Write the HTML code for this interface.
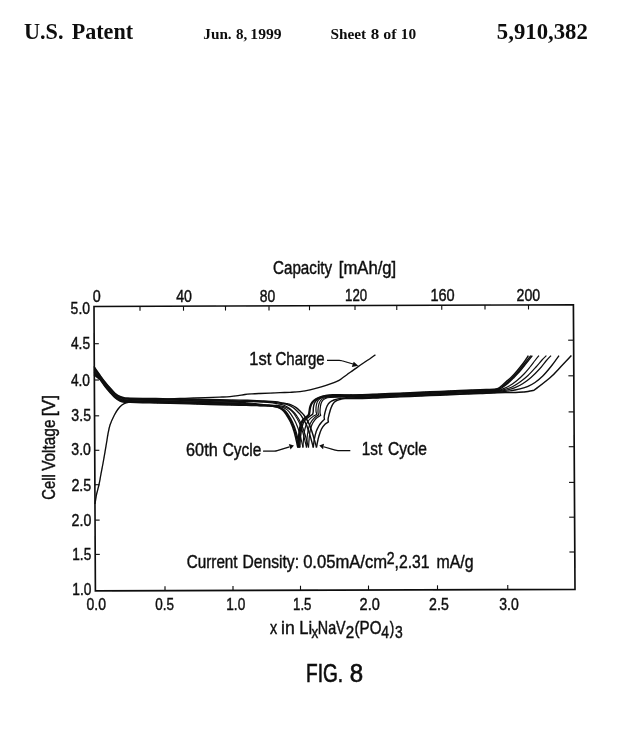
<!DOCTYPE html>
<html><head><meta charset="utf-8"><title>US Patent 5,910,382 - Sheet 8 of 10</title>
<style>
html,body{margin:0;padding:0;background:#fff;}
body{width:640px;height:732px;overflow:hidden;font-family:"Liberation Sans",sans-serif;}
svg{display:block;}
text{fill:#111;}
</style></head><body>
<svg width="640" height="732" viewBox="0 0 640 732">
<defs><filter id="soft" x="0" y="0" width="640" height="732" filterUnits="userSpaceOnUse"><feGaussianBlur stdDeviation="0.4"/></filter></defs>
<rect width="640" height="732" fill="#fff"/>
<g filter="url(#soft)">
<g id="texts">
<text transform="translate(23.96,38.75) scale(0.9666,1)" font-family='"Liberation Serif", serif' font-weight="bold" font-size="23">U.S.</text>
<text transform="translate(71.64,38.75) scale(0.9625,1)" font-family='"Liberation Serif", serif' font-weight="bold" font-size="23">Patent</text>
<text transform="translate(203.30,39.20) scale(1.0165,1)" font-family='"Liberation Serif", serif' font-weight="bold" font-size="15">Jun.</text>
<text transform="translate(235.90,39.20) scale(1.0012,1)" font-family='"Liberation Serif", serif' font-weight="bold" font-size="15">8,</text>
<text transform="translate(250.36,39.20) scale(1.0407,1)" font-family='"Liberation Serif", serif' font-weight="bold" font-size="15">1999</text>
<text transform="translate(330.42,39.20) scale(1.0212,1)" font-family='"Liberation Serif", serif' font-weight="bold" font-size="15">Sheet</text>
<text transform="translate(370.68,39.20) scale(1.1308,1)" font-family='"Liberation Serif", serif' font-weight="bold" font-size="15">8</text>
<text transform="translate(383.15,39.20) scale(1.0653,1)" font-family='"Liberation Serif", serif' font-weight="bold" font-size="15">of</text>
<text transform="translate(400.78,39.20) scale(1.0264,1)" font-family='"Liberation Serif", serif' font-weight="bold" font-size="15">10</text>
<text transform="translate(496.87,39.00) scale(0.9893,1)" font-family='"Liberation Serif", serif' font-weight="bold" font-size="23">5,910,382</text>
<text transform="translate(272.98,273.75) scale(0.8262,1)" font-family='"Liberation Sans", sans-serif' font-weight="normal" font-size="18.4" stroke="#111" stroke-width="0.45">Capacity</text>
<text transform="translate(338.81,273.75) scale(0.9063,1)" font-family='"Liberation Sans", sans-serif' font-weight="normal" font-size="18.4" stroke="#111" stroke-width="0.45">[mAh/g]</text>
<text transform="translate(92.76,302.00) scale(0.8693,1)" font-family='"Liberation Sans", sans-serif' font-weight="normal" font-size="16.5" stroke="#111" stroke-width="0.45">0</text>
<text transform="translate(176.23,301.80) scale(0.8576,1)" font-family='"Liberation Sans", sans-serif' font-weight="normal" font-size="16.5" stroke="#111" stroke-width="0.45">40</text>
<text transform="translate(259.72,301.50) scale(0.8440,1)" font-family='"Liberation Sans", sans-serif' font-weight="normal" font-size="16.5" stroke="#111" stroke-width="0.45">80</text>
<text transform="translate(345.05,301.20) scale(0.8039,1)" font-family='"Liberation Sans", sans-serif' font-weight="normal" font-size="16.5" stroke="#111" stroke-width="0.45">120</text>
<text transform="translate(430.45,300.90) scale(0.8818,1)" font-family='"Liberation Sans", sans-serif' font-weight="normal" font-size="16.5" stroke="#111" stroke-width="0.45">160</text>
<text transform="translate(516.60,300.60) scale(0.8574,1)" font-family='"Liberation Sans", sans-serif' font-weight="normal" font-size="16.5" stroke="#111" stroke-width="0.45">200</text>
<text transform="translate(70.62,313.50) scale(0.8462,1)" font-family='"Liberation Sans", sans-serif' font-weight="normal" font-size="16.5" stroke="#111" stroke-width="0.45">5.0</text>
<text transform="translate(70.89,349.40) scale(0.8366,1)" font-family='"Liberation Sans", sans-serif' font-weight="normal" font-size="16.5" stroke="#111" stroke-width="0.45">4.5</text>
<text transform="translate(70.89,385.60) scale(0.8342,1)" font-family='"Liberation Sans", sans-serif' font-weight="normal" font-size="16.5" stroke="#111" stroke-width="0.45">4.0</text>
<text transform="translate(71.37,421.00) scale(0.8555,1)" font-family='"Liberation Sans", sans-serif' font-weight="normal" font-size="16.5" stroke="#111" stroke-width="0.45">3.5</text>
<text transform="translate(71.37,454.80) scale(0.8530,1)" font-family='"Liberation Sans", sans-serif' font-weight="normal" font-size="16.5" stroke="#111" stroke-width="0.45">3.0</text>
<text transform="translate(71.40,490.60) scale(0.8676,1)" font-family='"Liberation Sans", sans-serif' font-weight="normal" font-size="16.5" stroke="#111" stroke-width="0.45">2.5</text>
<text transform="translate(71.60,525.50) scale(0.8605,1)" font-family='"Liberation Sans", sans-serif' font-weight="normal" font-size="16.5" stroke="#111" stroke-width="0.45">2.0</text>
<text transform="translate(72.26,559.70) scale(0.8286,1)" font-family='"Liberation Sans", sans-serif' font-weight="normal" font-size="16.5" stroke="#111" stroke-width="0.45">1.5</text>
<text transform="translate(72.26,594.50) scale(0.8356,1)" font-family='"Liberation Sans", sans-serif' font-weight="normal" font-size="16.5" stroke="#111" stroke-width="0.45">1.0</text>
<text transform="translate(86.52,609.60) scale(0.8484,1)" font-family='"Liberation Sans", sans-serif' font-weight="normal" font-size="16.5" stroke="#111" stroke-width="0.45">0.0</text>
<text transform="translate(155.29,609.60) scale(0.8162,1)" font-family='"Liberation Sans", sans-serif' font-weight="normal" font-size="16.5" stroke="#111" stroke-width="0.45">0.5</text>
<text transform="translate(226.27,609.60) scale(0.8261,1)" font-family='"Liberation Sans", sans-serif' font-weight="normal" font-size="16.5" stroke="#111" stroke-width="0.45">1.0</text>
<text transform="translate(293.04,609.60) scale(0.8048,1)" font-family='"Liberation Sans", sans-serif' font-weight="normal" font-size="16.5" stroke="#111" stroke-width="0.45">1.5</text>
<text transform="translate(359.59,609.60) scale(0.8791,1)" font-family='"Liberation Sans", sans-serif' font-weight="normal" font-size="16.5" stroke="#111" stroke-width="0.45">2.0</text>
<text transform="translate(429.10,609.60) scale(0.8583,1)" font-family='"Liberation Sans", sans-serif' font-weight="normal" font-size="16.5" stroke="#111" stroke-width="0.45">2.5</text>
<text transform="translate(499.27,609.60) scale(0.8484,1)" font-family='"Liberation Sans", sans-serif' font-weight="normal" font-size="16.5" stroke="#111" stroke-width="0.45">3.0</text>
<text transform="translate(249.37,364.60) scale(0.8954,1)" font-family='"Liberation Sans", sans-serif' font-weight="normal" font-size="18.4" stroke="#111" stroke-width="0.45">1st</text>
<text transform="translate(275.48,364.60) scale(0.8162,1)" font-family='"Liberation Sans", sans-serif' font-weight="normal" font-size="18.4" stroke="#111" stroke-width="0.45">Charge</text>
<text transform="translate(186.07,455.60) scale(0.8833,1)" font-family='"Liberation Sans", sans-serif' font-weight="normal" font-size="18.4" stroke="#111" stroke-width="0.45">60th</text>
<text transform="translate(222.71,455.60) scale(0.8396,1)" font-family='"Liberation Sans", sans-serif' font-weight="normal" font-size="18.4" stroke="#111" stroke-width="0.45">Cycle</text>
<text transform="translate(361.86,455.40) scale(0.8325,1)" font-family='"Liberation Sans", sans-serif' font-weight="normal" font-size="18.4" stroke="#111" stroke-width="0.45">1st</text>
<text transform="translate(387.95,455.40) scale(0.8487,1)" font-family='"Liberation Sans", sans-serif' font-weight="normal" font-size="18.4" stroke="#111" stroke-width="0.45">Cycle</text>
<text transform="translate(54.90,499.76) rotate(-90) scale(0.8068,1)" font-family='"Liberation Sans", sans-serif' font-weight="normal" font-size="18.4" stroke="#111" stroke-width="0.45">Cell</text>
<text transform="translate(54.90,470.85) rotate(-90) scale(0.8364,1)" font-family='"Liberation Sans", sans-serif' font-weight="normal" font-size="18.4" stroke="#111" stroke-width="0.45">Voltage</text>
<text transform="translate(54.90,416.13) rotate(-90) scale(0.9409,1)" font-family='"Liberation Sans", sans-serif' font-weight="normal" font-size="18.4" stroke="#111" stroke-width="0.45">[V]</text>
<text transform="translate(186.72,568.20) scale(0.8299,1)" font-family='"Liberation Sans", sans-serif' font-weight="normal" font-size="18.4" stroke="#111" stroke-width="0.45">Current</text>
<text transform="translate(242.47,568.20) scale(0.8506,1)" font-family='"Liberation Sans", sans-serif' font-weight="normal" font-size="18.4" stroke="#111" stroke-width="0.45">Density:</text>
<text transform="translate(303.13,568.20) scale(0.9032,1)" font-family='"Liberation Sans", sans-serif' font-weight="normal" font-size="18.4" stroke="#111" stroke-width="0.45">0.05mA/cm</text>
<text transform="translate(386.69,563.80) scale(0.8678,1)" font-family='"Liberation Sans", sans-serif' font-weight="normal" font-size="16.2" stroke="#111" stroke-width="0.45">2</text>
<text transform="translate(394.56,568.20) scale(0.8562,1)" font-family='"Liberation Sans", sans-serif' font-weight="normal" font-size="18.4" stroke="#111" stroke-width="0.45">,2.31</text>
<text transform="translate(436.42,568.20) scale(0.8642,1)" font-family='"Liberation Sans", sans-serif' font-weight="normal" font-size="18.4" stroke="#111" stroke-width="0.45">mA/g</text>
<text transform="translate(270.06,633.90) scale(0.7770,1)" font-family='"Liberation Sans", sans-serif' font-weight="normal" font-size="18.4" stroke="#111" stroke-width="0.45">x</text>
<text transform="translate(281.10,633.90) scale(0.9566,1)" font-family='"Liberation Sans", sans-serif' font-weight="normal" font-size="18.4" stroke="#111" stroke-width="0.45">in</text>
<text transform="translate(299.26,633.90) scale(0.8946,1)" font-family='"Liberation Sans", sans-serif' font-weight="normal" font-size="18.4" stroke="#111" stroke-width="0.45">Li</text>
<text transform="translate(311.44,638.00) scale(0.8393,1)" font-family='"Liberation Sans", sans-serif' font-weight="normal" font-size="16" stroke="#111" stroke-width="0.45">x</text>
<text transform="translate(317.83,633.90) scale(0.7781,1)" font-family='"Liberation Sans", sans-serif' font-weight="normal" font-size="18.4" stroke="#111" stroke-width="0.45">NaV</text>
<text transform="translate(345.64,637.80) scale(0.9356,1)" font-family='"Liberation Sans", sans-serif' font-weight="normal" font-size="16.2" stroke="#111" stroke-width="0.45">2</text>
<text transform="translate(354.57,633.90) scale(0.8244,1)" font-family='"Liberation Sans", sans-serif' font-weight="normal" font-size="18.4" stroke="#111" stroke-width="0.45">(PO</text>
<text transform="translate(381.28,637.80) scale(0.8615,1)" font-family='"Liberation Sans", sans-serif' font-weight="normal" font-size="16.2" stroke="#111" stroke-width="0.45">4</text>
<text transform="translate(389.71,633.90) scale(0.7385,1)" font-family='"Liberation Sans", sans-serif' font-weight="normal" font-size="18.4" stroke="#111" stroke-width="0.45">)</text>
<text transform="translate(395.06,637.80) scale(0.8585,1)" font-family='"Liberation Sans", sans-serif' font-weight="normal" font-size="16.2" stroke="#111" stroke-width="0.45">3</text>
<text transform="translate(306.03,681.70) scale(0.7628,1)" font-family='"Liberation Sans", sans-serif' font-weight="normal" font-size="25" stroke="#111" stroke-width="0.65">FIG.</text>
<text transform="translate(349.68,681.70) scale(0.9617,1)" font-family='"Liberation Sans", sans-serif' font-weight="normal" font-size="25" stroke="#111" stroke-width="0.65">8</text>
</g>
<g id="frame">
<polygon points="94.0,306.5 573.4,304.8 575.0,589.4 95.4,590.9" fill="none" stroke="#0a0a0a" stroke-width="1.65" stroke-linejoin="miter"/>
<g stroke="#0a0a0a" stroke-width="1.1">
<line x1="140" y1="306.34" x2="140" y2="310.84"/>
<line x1="183.5" y1="306.18" x2="183.5" y2="310.68"/>
<line x1="225.5" y1="306.03" x2="225.5" y2="310.53"/>
<line x1="269" y1="305.88" x2="269" y2="310.38"/>
<line x1="309.5" y1="305.74" x2="309.5" y2="310.24"/>
<line x1="355" y1="305.57" x2="355" y2="310.07"/>
<line x1="396.75" y1="305.43" x2="396.75" y2="309.93"/>
<line x1="441.75" y1="305.27" x2="441.75" y2="309.77"/>
<line x1="485" y1="305.11" x2="485" y2="309.61"/>
<line x1="528.5" y1="304.96" x2="528.5" y2="309.46"/>
<line x1="165" y1="590.68" x2="165" y2="586.18"/>
<line x1="233" y1="590.47" x2="233" y2="585.97"/>
<line x1="300.5" y1="590.26" x2="300.5" y2="585.76"/>
<line x1="368.5" y1="590.05" x2="368.5" y2="585.55"/>
<line x1="437.5" y1="589.83" x2="437.5" y2="585.33"/>
<line x1="507.75" y1="589.61" x2="507.75" y2="585.11"/>
<line x1="94.18" y1="343.7" x2="98.78" y2="343.7"/>
<line x1="94.36" y1="380" x2="98.96" y2="380"/>
<line x1="94.54" y1="415.8" x2="99.14" y2="415.8"/>
<line x1="94.71" y1="450.3" x2="99.31" y2="450.3"/>
<line x1="94.88" y1="484.7" x2="99.48" y2="484.7"/>
<line x1="95.05" y1="520.1" x2="99.65" y2="520.1"/>
<line x1="95.22" y1="554.4" x2="99.82" y2="554.4"/>
<line x1="573.60" y1="340.2" x2="568.20" y2="340.2"/>
<line x1="573.80" y1="375.8" x2="568.40" y2="375.8"/>
<line x1="574.00" y1="411.9" x2="568.60" y2="411.9"/>
<line x1="574.20" y1="446.7" x2="568.80" y2="446.7"/>
<line x1="574.40" y1="482.4" x2="569.00" y2="482.4"/>
<line x1="574.59" y1="517.2" x2="569.19" y2="517.2"/>
<line x1="574.79" y1="552" x2="569.39" y2="552"/>
</g>
</g>
<g id="curves">
<path d="M95.00,504.00C95.23,502.50 95.75,498.17 96.40,495.00C97.05,491.83 98.17,488.33 98.90,485.00C99.63,481.67 100.02,479.17 100.80,475.00C101.58,470.83 102.57,465.83 103.60,460.00C104.63,454.17 106.30,444.17 107.00,440.00C107.70,435.83 107.30,437.50 107.80,435.00C108.30,432.50 108.90,428.33 110.00,425.00C111.10,421.67 113.05,417.67 114.40,415.00C115.75,412.33 116.85,410.67 118.10,409.00C119.35,407.33 120.54,406.03 121.90,405.00C123.26,403.97 124.07,403.33 126.25,402.80C128.43,402.27 131.04,402.18 135.00,401.80C138.96,401.42 144.17,401.00 150.00,400.50C155.83,400.00 164.17,399.17 170.00,398.80C175.83,398.43 179.17,398.48 185.00,398.30C190.83,398.12 199.17,397.90 205.00,397.70C210.83,397.50 215.83,397.28 220.00,397.10C224.17,396.92 227.00,396.83 230.00,396.60C233.00,396.37 235.50,396.05 238.00,395.70C240.50,395.35 242.67,394.80 245.00,394.50C247.33,394.20 249.50,394.07 252.00,393.90C254.50,393.73 255.33,393.70 260.00,393.50C264.67,393.30 275.00,392.90 280.00,392.70C285.00,392.50 286.67,392.48 290.00,392.30C293.33,392.12 296.67,392.00 300.00,391.60C303.33,391.20 306.46,390.68 310.00,389.90C313.54,389.12 316.77,388.32 321.25,386.90C325.73,385.48 333.44,382.85 336.90,381.40C340.36,379.95 340.28,379.35 342.00,378.20C343.72,377.05 344.62,376.35 347.20,374.50C349.78,372.65 354.37,369.30 357.50,367.10C360.63,364.90 363.82,362.78 366.00,361.30C368.18,359.82 369.03,359.28 370.60,358.20C372.17,357.12 374.60,355.37 375.40,354.80" fill="none" stroke="#0a0a0a" stroke-width="1.35" stroke-linejoin="miter" stroke-linecap="butt"/>
<path d="M94.00,374.64C94.50,375.06 96.00,376.30 97.00,377.13C98.00,377.96 98.67,378.08 100.00,379.64C101.33,381.21 103.33,384.37 105.00,386.51C106.67,388.65 108.33,390.59 110.00,392.47C111.67,394.35 113.33,396.36 115.00,397.79C116.67,399.23 118.33,400.35 120.00,401.08C121.67,401.81 123.33,401.99 125.00,402.20C126.67,402.41 125.83,402.22 130.00,402.33C134.17,402.44 143.33,402.68 150.00,402.85C156.67,403.02 160.00,403.11 170.00,403.37C180.00,403.63 200.00,404.15 210.00,404.41C220.00,404.67 225.00,404.80 230.00,404.93C235.00,405.06 237.33,405.12 240.00,405.19C242.67,405.26 243.87,405.29 246.00,405.35C248.13,405.40 250.50,405.46 252.80,405.52C255.10,405.58 257.47,405.64 259.80,405.70C262.13,405.77 264.80,405.79 266.80,405.89C268.80,405.99 270.02,406.06 271.80,406.30C273.58,406.55 275.80,406.81 277.50,407.35C279.20,407.89 280.67,408.53 282.00,409.55C283.33,410.58 284.08,411.42 285.50,413.50C286.92,415.59 289.03,418.91 290.50,422.05C291.97,425.19 293.08,428.11 294.30,432.35C295.52,436.60 297.22,444.98 297.80,447.50" fill="none" stroke="#0a0a0a" stroke-width="1.45" stroke-linejoin="miter" stroke-linecap="butt"/>
<path d="M94.00,373.47C94.50,373.93 96.00,375.31 97.00,376.22C98.00,377.14 98.67,377.36 100.00,378.96C101.33,380.56 103.33,383.68 105.00,385.82C106.67,387.96 108.33,389.91 110.00,391.80C111.67,393.68 113.33,395.70 115.00,397.13C116.67,398.57 118.33,399.67 120.00,400.41C121.67,401.15 123.33,401.36 125.00,401.58C126.67,401.80 125.83,401.62 130.00,401.72C134.17,401.83 143.33,402.06 150.00,402.22C156.67,402.39 160.00,402.47 170.00,402.72C180.00,402.97 200.00,403.47 210.00,403.72C220.00,403.97 225.00,404.09 230.00,404.22C235.00,404.34 237.33,404.39 240.00,404.47C242.67,404.55 244.00,404.61 246.00,404.69C248.00,404.77 249.53,404.84 252.00,404.96C254.47,405.08 258.17,405.29 260.80,405.41C263.43,405.54 265.80,405.60 267.80,405.73C269.80,405.85 271.02,405.91 272.80,406.18C274.58,406.45 276.80,406.76 278.50,407.34C280.20,407.92 281.67,408.61 283.00,409.65C284.33,410.69 285.08,411.51 286.50,413.59C287.92,415.68 290.03,419.00 291.50,422.15C292.97,425.30 294.08,428.27 295.30,432.49C296.52,436.72 298.22,445.00 298.80,447.50" fill="none" stroke="#0a0a0a" stroke-width="1.45" stroke-linejoin="miter" stroke-linecap="butt"/>
<path d="M94.00,372.30C94.50,372.80 96.00,374.32 97.00,375.32C98.00,376.32 98.67,376.66 100.00,378.29C101.33,379.93 103.33,383.00 105.00,385.14C106.67,387.28 108.33,389.23 110.00,391.12C111.67,393.01 113.33,395.04 115.00,396.47C116.67,397.91 118.33,398.99 120.00,399.74C121.67,400.49 123.33,400.73 125.00,400.96C126.67,401.19 125.83,401.01 130.00,401.12C134.17,401.23 143.33,401.44 150.00,401.60C156.67,401.76 160.00,401.83 170.00,402.07C180.00,402.31 200.00,402.79 210.00,403.03C220.00,403.27 225.00,403.38 230.00,403.50C235.00,403.63 237.33,403.67 240.00,403.75C242.67,403.84 244.00,403.93 246.00,404.04C248.00,404.15 249.37,404.23 252.00,404.41C254.63,404.60 259.00,404.96 261.80,405.15C264.60,405.35 266.80,405.41 268.80,405.57C270.80,405.72 272.02,405.77 273.80,406.06C275.58,406.36 277.80,406.72 279.50,407.33C281.20,407.95 282.67,408.70 284.00,409.76C285.33,410.82 286.08,411.61 287.50,413.69C288.92,415.77 291.03,419.10 292.50,422.25C293.97,425.41 295.08,428.43 296.30,432.63C297.52,436.84 299.22,445.02 299.80,447.50" fill="none" stroke="#0a0a0a" stroke-width="1.4" stroke-linejoin="miter" stroke-linecap="butt"/>
<path d="M94.00,371.12C94.50,371.67 96.00,373.35 97.00,374.44C98.00,375.52 98.67,375.97 100.00,377.64C101.33,379.31 103.33,382.33 105.00,384.47C106.67,386.60 108.33,388.56 110.00,390.45C111.67,392.35 113.33,394.38 115.00,395.82C116.67,397.25 118.33,398.32 120.00,399.07C121.67,399.82 123.33,400.10 125.00,400.34C126.67,400.58 125.83,400.41 130.00,400.51C134.17,400.62 143.33,400.82 150.00,400.97C156.67,401.12 160.00,401.20 170.00,401.43C180.00,401.65 200.00,402.11 210.00,402.34C220.00,402.56 225.00,402.68 230.00,402.79C235.00,402.91 237.33,402.94 240.00,403.04C242.67,403.13 244.00,403.24 246.00,403.38C248.00,403.52 250.00,403.69 252.00,403.87C254.00,404.05 255.83,404.28 258.00,404.47C260.17,404.67 262.67,404.87 265.00,405.04C267.33,405.20 270.00,405.30 272.00,405.46C274.00,405.62 275.22,405.68 277.00,406.00C278.78,406.32 281.00,406.73 282.70,407.38C284.40,408.03 285.87,408.84 287.20,409.92C288.53,410.99 289.28,411.75 290.70,413.83C292.12,415.91 294.23,419.23 295.70,422.39C297.17,425.55 298.28,428.61 299.50,432.80C300.72,436.98 302.42,445.05 303.00,447.50" fill="none" stroke="#0a0a0a" stroke-width="1.15" stroke-linejoin="miter" stroke-linecap="butt"/>
<path d="M94.00,369.95C94.50,370.55 96.00,372.38 97.00,373.56C98.00,374.73 98.67,375.30 100.00,377.01C101.33,378.72 103.33,381.68 105.00,383.81C106.67,385.94 108.33,387.90 110.00,389.79C111.67,391.68 113.33,393.73 115.00,395.16C116.67,396.59 118.33,397.64 120.00,398.40C121.67,399.15 123.33,399.46 125.00,399.72C126.67,399.97 125.83,399.80 130.00,399.91C134.17,400.01 143.33,400.20 150.00,400.34C156.67,400.49 160.00,400.56 170.00,400.78C180.00,400.99 200.00,401.43 210.00,401.65C220.00,401.86 225.00,401.97 230.00,402.08C235.00,402.19 237.33,402.21 240.00,402.32C242.67,402.42 244.00,402.55 246.00,402.72C248.00,402.88 249.42,403.03 252.00,403.30C254.58,403.58 258.75,404.10 261.50,404.36C264.25,404.62 266.17,404.70 268.50,404.86C270.83,405.03 273.50,405.16 275.50,405.33C277.50,405.51 278.72,405.57 280.50,405.92C282.28,406.26 284.50,406.73 286.20,407.43C287.90,408.13 289.37,409.01 290.70,410.10C292.03,411.19 292.78,411.92 294.20,413.99C295.62,416.07 297.73,419.39 299.20,422.55C300.67,425.72 301.78,428.83 303.00,432.99C304.22,437.15 305.92,445.08 306.50,447.50" fill="none" stroke="#0a0a0a" stroke-width="1.15" stroke-linejoin="miter" stroke-linecap="butt"/>
<path d="M94.00,368.77C94.50,369.43 96.00,371.42 97.00,372.69C98.00,373.96 98.67,374.65 100.00,376.40C101.33,378.14 103.33,381.03 105.00,383.15C106.67,385.28 108.33,387.24 110.00,389.13C111.67,391.03 113.33,393.07 115.00,394.50C116.67,395.94 118.33,396.95 120.00,397.72C121.67,398.48 123.33,398.83 125.00,399.09C126.67,399.36 125.83,399.20 130.00,399.30C134.17,399.41 143.33,399.58 150.00,399.72C156.67,399.85 160.00,399.92 170.00,400.13C180.00,400.34 200.00,400.75 210.00,400.95C220.00,401.16 225.00,401.27 230.00,401.37C235.00,401.47 237.33,401.53 240.00,401.57C242.67,401.61 244.00,401.61 246.00,401.62C248.00,401.63 249.08,401.55 252.00,401.62C254.92,401.69 260.42,401.88 263.50,402.04C266.58,402.21 268.17,402.33 270.50,402.62C272.83,402.90 275.50,403.42 277.50,403.78C279.50,404.14 280.72,404.17 282.50,404.78C284.28,405.38 286.50,406.34 288.20,407.42C289.90,408.50 291.37,409.99 292.70,411.26C294.03,412.52 294.78,412.96 296.20,415.02C297.62,417.08 299.73,420.40 301.20,423.64C302.67,426.88 303.78,430.49 305.00,434.47C306.22,438.45 307.92,445.33 308.50,447.50" fill="none" stroke="#0a0a0a" stroke-width="1.2" stroke-linejoin="miter" stroke-linecap="butt"/>
<path d="M94.00,367.60C94.50,368.30 96.00,370.46 97.00,371.83C98.00,373.19 98.67,374.02 100.00,375.80C101.33,377.58 103.33,380.40 105.00,382.51C106.67,384.63 108.33,386.59 110.00,388.48C111.67,390.37 113.33,392.42 115.00,393.85C116.67,395.28 118.33,396.27 120.00,397.04C121.67,397.81 123.33,398.19 125.00,398.47C126.67,398.75 125.83,398.59 130.00,398.70C134.17,398.80 143.33,398.96 150.00,399.09C156.67,399.22 160.00,399.28 170.00,399.48C180.00,399.68 200.00,400.07 210.00,400.26C220.00,400.46 225.00,400.56 230.00,400.66C235.00,400.75 237.33,400.80 240.00,400.85C242.67,400.90 244.00,400.92 246.00,400.95C248.00,400.98 248.28,400.90 252.00,401.03C255.72,401.16 264.42,401.51 268.30,401.74C272.18,401.96 272.97,402.06 275.30,402.38C277.63,402.70 280.30,403.26 282.30,403.65C284.30,404.04 285.52,404.06 287.30,404.71C289.08,405.35 291.30,406.38 293.00,407.52C294.70,408.66 296.17,410.24 297.50,411.53C298.83,412.82 299.58,413.21 301.00,415.27C302.42,417.33 304.53,420.63 306.00,423.88C307.47,427.12 308.58,430.80 309.80,434.74C311.02,438.67 312.72,445.37 313.30,447.50" fill="none" stroke="#0a0a0a" stroke-width="1.35" stroke-linejoin="miter" stroke-linecap="butt"/>
<path d="M94.00,366.43C94.50,367.18 96.00,369.51 97.00,370.98C98.00,372.44 98.67,373.40 100.00,375.22C101.33,377.04 103.33,379.78 105.00,381.88C106.67,383.98 108.33,385.95 110.00,387.83C111.67,389.72 113.33,391.78 115.00,393.20C116.67,394.62 118.33,395.58 120.00,396.36C121.67,397.13 123.33,397.56 125.00,397.85C126.67,398.13 125.83,397.99 130.00,398.09C134.17,398.20 143.33,398.34 150.00,398.46C156.67,398.59 160.00,398.65 170.00,398.83C180.00,399.02 200.00,399.39 210.00,399.57C220.00,399.76 225.00,399.85 230.00,399.94C235.00,400.04 237.33,400.07 240.00,400.13C242.67,400.19 244.00,400.22 246.00,400.27C248.00,400.33 247.75,400.25 252.00,400.44C256.25,400.63 267.08,401.14 271.50,401.42C275.92,401.70 276.17,401.76 278.50,402.11C280.83,402.45 283.50,403.07 285.50,403.49C287.50,403.91 288.72,403.93 290.50,404.61C292.28,405.30 294.50,406.40 296.20,407.60C297.90,408.80 299.37,410.48 300.70,411.79C302.03,413.11 302.78,413.45 304.20,415.50C305.62,417.55 307.73,420.85 309.20,424.10C310.67,427.35 311.78,431.10 313.00,435.00C314.22,438.90 315.92,445.42 316.50,447.50" fill="none" stroke="#0a0a0a" stroke-width="1.4" stroke-linejoin="miter" stroke-linecap="butt"/>
<path d="M297.80,447.50C297.93,445.58 298.22,439.58 298.60,436.00C298.98,432.42 299.40,428.75 300.10,426.00C300.80,423.25 301.52,421.25 302.80,419.50C304.08,417.75 306.77,416.75 307.80,415.50C308.83,414.25 308.67,413.42 309.00,412.00C309.33,410.58 309.33,408.58 309.80,407.00C310.27,405.42 310.80,403.83 311.80,402.50C312.80,401.17 313.90,400.10 315.80,399.00C317.70,397.90 320.37,396.60 323.20,395.90C326.03,395.20 329.17,394.97 332.80,394.80C336.43,394.63 340.47,394.90 345.00,394.90C349.53,394.90 354.17,394.96 360.00,394.80C365.83,394.64 373.33,394.23 380.00,393.95C386.67,393.67 393.33,393.38 400.00,393.10C406.67,392.82 413.33,392.53 420.00,392.25C426.67,391.97 433.33,391.68 440.00,391.40C446.67,391.12 453.33,390.83 460.00,390.55C466.67,390.27 474.00,389.96 480.00,389.70C486.00,389.44 492.50,389.55 496.00,388.98C499.50,388.40 499.33,387.45 501.00,386.26C502.67,385.06 504.33,383.27 506.00,381.83C507.67,380.39 509.17,379.43 511.00,377.61C512.83,375.80 515.00,373.30 517.00,370.94C519.00,368.59 521.10,366.06 523.00,363.50C524.90,360.94 527.50,356.92 528.40,355.60" fill="none" stroke="#0a0a0a" stroke-width="1.45" stroke-linejoin="miter" stroke-linecap="butt"/>
<path d="M298.80,447.50C298.93,445.58 299.22,439.58 299.60,436.00C299.98,432.42 300.40,428.75 301.10,426.00C301.80,423.25 302.52,421.27 303.80,419.50C305.08,417.73 307.80,416.65 308.80,415.40C309.80,414.15 309.50,413.40 309.80,412.00C310.10,410.60 310.13,408.58 310.60,407.00C311.07,405.42 311.57,403.83 312.60,402.50C313.63,401.17 314.90,400.07 316.80,399.00C318.70,397.93 321.30,396.75 324.00,396.10C326.70,395.45 329.50,395.25 333.00,395.10C336.50,394.95 340.50,395.16 345.00,395.20C349.50,395.24 354.17,395.46 360.00,395.34C365.83,395.23 373.33,394.78 380.00,394.49C386.67,394.21 393.33,393.93 400.00,393.64C406.67,393.36 413.33,393.08 420.00,392.79C426.67,392.51 433.33,392.23 440.00,391.94C446.67,391.66 453.33,391.38 460.00,391.09C466.67,390.81 473.92,390.50 480.00,390.24C486.08,389.98 492.92,390.06 496.50,389.52C500.08,388.98 499.67,388.18 501.50,387.00C503.33,385.81 505.50,384.14 507.50,382.41C509.50,380.68 511.50,378.69 513.50,376.62C515.50,374.55 517.58,372.27 519.50,370.00C521.42,367.73 523.12,365.40 525.00,363.00C526.88,360.60 529.83,356.83 530.80,355.60" fill="none" stroke="#0a0a0a" stroke-width="1.45" stroke-linejoin="miter" stroke-linecap="butt"/>
<path d="M299.80,447.50C299.92,445.75 300.17,440.25 300.50,437.00C300.83,433.75 301.22,430.58 301.80,428.00C302.38,425.42 302.97,423.23 304.00,421.50C305.03,419.77 306.57,418.78 308.00,417.60C309.43,416.42 311.83,414.93 312.60,414.40C312.70,414.00 313.07,413.15 313.20,412.00C313.33,410.85 313.22,408.92 313.40,407.50C313.58,406.08 313.78,404.72 314.30,403.50C314.82,402.28 315.47,401.15 316.50,400.20C317.53,399.25 318.92,398.43 320.50,397.80C322.08,397.17 321.92,396.78 326.00,396.40C330.08,396.02 339.33,395.59 345.00,395.50C350.67,395.41 354.17,395.96 360.00,395.89C365.83,395.81 373.33,395.32 380.00,395.04C386.67,394.75 393.33,394.47 400.00,394.19C406.67,393.90 413.33,393.62 420.00,393.34C426.67,393.05 433.33,392.77 440.00,392.49C446.67,392.20 453.33,391.92 460.00,391.64C466.67,391.35 473.83,391.05 480.00,390.79C486.17,390.52 493.33,390.57 497.00,390.06C500.67,389.56 500.17,388.86 502.00,387.74C503.83,386.62 506.00,385.05 508.00,383.33C510.00,381.61 512.00,379.48 514.00,377.42C516.00,375.37 518.00,373.32 520.00,371.00C522.00,368.68 523.95,366.07 526.00,363.50C528.05,360.93 531.25,356.92 532.30,355.60" fill="none" stroke="#0a0a0a" stroke-width="1.4" stroke-linejoin="miter" stroke-linecap="butt"/>
<path d="M303.00,447.50C303.10,445.92 303.32,440.92 303.60,438.00C303.88,435.08 304.25,432.25 304.70,430.00C305.15,427.75 305.58,426.17 306.30,424.50C307.02,422.83 307.92,421.32 309.00,420.00C310.08,418.68 311.48,417.55 312.80,416.60C314.12,415.65 316.22,414.68 316.90,414.30C316.77,413.88 316.25,412.85 316.10,411.80C315.95,410.75 315.92,409.30 316.00,408.00C316.08,406.70 316.27,405.23 316.60,404.00C316.93,402.77 317.27,401.57 318.00,400.60C318.73,399.63 319.67,398.85 321.00,398.20C322.33,397.55 322.00,397.08 326.00,396.70C330.00,396.32 339.33,395.95 345.00,395.90C350.67,395.85 354.17,396.48 360.00,396.43C365.83,396.38 373.33,395.86 380.00,395.58C386.67,395.30 393.33,395.01 400.00,394.73C406.67,394.45 413.33,394.16 420.00,393.88C426.67,393.60 433.33,393.31 440.00,393.03C446.67,392.75 453.33,392.46 460.00,392.18C466.67,391.90 473.83,391.59 480.00,391.33C486.17,391.07 493.17,391.01 497.00,390.61C500.83,390.20 500.83,389.72 503.00,388.88C505.17,388.03 507.67,386.94 510.00,385.54C512.33,384.15 514.67,382.43 517.00,380.51C519.33,378.59 521.83,376.25 524.00,374.00C526.17,371.75 528.17,369.25 530.00,367.00C531.83,364.75 533.50,362.40 535.00,360.50C536.50,358.60 538.33,356.42 539.00,355.60" fill="none" stroke="#0a0a0a" stroke-width="1.15" stroke-linejoin="miter" stroke-linecap="butt"/>
<path d="M306.50,447.50C306.60,445.92 306.82,440.92 307.10,438.00C307.38,435.08 307.75,432.25 308.20,430.00C308.65,427.75 309.13,426.12 309.80,424.50C310.47,422.88 311.28,421.55 312.20,420.30C313.12,419.05 314.22,417.92 315.30,417.00C316.38,416.08 318.13,415.17 318.70,414.80C318.58,414.37 318.08,413.33 318.00,412.20C317.92,411.07 318.03,409.40 318.20,408.00C318.37,406.60 318.60,405.05 319.00,403.80C319.40,402.55 319.85,401.42 320.60,400.50C321.35,399.58 322.18,398.87 323.50,398.30C324.82,397.73 324.92,397.42 328.50,397.10C332.08,396.78 339.75,396.42 345.00,396.40C350.25,396.38 354.17,397.02 360.00,396.97C365.83,396.92 373.33,396.40 380.00,396.12C386.67,395.84 393.33,395.55 400.00,395.27C406.67,394.99 413.33,394.70 420.00,394.42C426.67,394.14 433.33,393.85 440.00,393.57C446.67,393.29 453.33,393.00 460.00,392.72C466.67,392.44 473.83,392.13 480.00,391.87C486.17,391.61 492.83,391.57 497.00,391.15C501.17,390.73 502.50,390.05 505.00,389.35C507.50,388.65 509.50,388.20 512.00,386.97C514.50,385.75 517.33,383.91 520.00,382.00C522.67,380.09 525.33,378.00 528.00,375.50C530.67,373.00 533.67,369.58 536.00,367.00C538.33,364.42 540.27,361.90 542.00,360.00C543.73,358.10 545.67,356.33 546.40,355.60" fill="none" stroke="#0a0a0a" stroke-width="1.15" stroke-linejoin="miter" stroke-linecap="butt"/>
<path d="M308.50,447.50C308.62,445.92 308.90,440.92 309.20,438.00C309.50,435.08 309.83,432.25 310.30,430.00C310.77,427.75 311.30,426.12 312.00,424.50C312.70,422.88 313.58,421.50 314.50,420.30C315.42,419.10 316.47,418.13 317.50,417.30C318.53,416.47 320.17,415.63 320.70,415.30C320.58,414.85 320.08,413.73 320.00,412.60C319.92,411.47 320.05,409.93 320.20,408.50C320.35,407.07 320.55,405.28 320.90,404.00C321.25,402.72 321.62,401.68 322.30,400.80C322.98,399.92 323.72,399.25 325.00,398.70C326.28,398.15 326.67,397.80 330.00,397.50C333.33,397.20 340.00,396.90 345.00,396.90C350.00,396.90 354.17,397.55 360.00,397.51C365.83,397.47 373.33,396.95 380.00,396.66C386.67,396.38 393.33,396.10 400.00,395.81C406.67,395.53 413.33,395.25 420.00,394.96C426.67,394.68 433.33,394.40 440.00,394.11C446.67,393.83 453.33,393.55 460.00,393.26C466.67,392.98 473.83,392.68 480.00,392.41C486.17,392.15 492.50,392.10 497.00,391.69C501.50,391.29 504.00,390.66 507.00,389.99C510.00,389.31 512.33,388.74 515.00,387.66C517.67,386.58 520.33,385.19 523.00,383.50C525.67,381.81 528.17,380.00 531.00,377.50C533.83,375.00 537.50,371.25 540.00,368.50C542.50,365.75 544.17,363.15 546.00,361.00C547.83,358.85 550.17,356.50 551.00,355.60" fill="none" stroke="#0a0a0a" stroke-width="1.2" stroke-linejoin="miter" stroke-linecap="butt"/>
<path d="M313.30,447.50C313.45,446.25 313.72,442.67 314.20,440.00C314.68,437.33 315.43,433.83 316.20,431.50C316.97,429.17 317.92,427.53 318.80,426.00C319.68,424.47 320.55,423.42 321.50,422.30C322.45,421.18 324.00,419.80 324.50,419.30C324.45,418.85 324.05,417.98 324.20,416.60C324.35,415.22 324.90,412.80 325.40,411.00C325.90,409.20 326.47,407.27 327.20,405.80C327.93,404.33 328.67,403.17 329.80,402.20C330.93,401.23 332.47,400.58 334.00,400.00C335.53,399.42 337.17,399.07 339.00,398.70C340.83,398.33 341.50,397.91 345.00,397.80C348.50,397.69 354.17,398.16 360.00,398.06C365.83,397.96 373.33,397.49 380.00,397.21C386.67,396.92 393.33,396.64 400.00,396.36C406.67,396.07 413.33,395.79 420.00,395.51C426.67,395.22 433.33,394.94 440.00,394.66C446.67,394.37 453.33,394.09 460.00,393.81C466.67,393.52 473.83,393.22 480.00,392.96C486.17,392.70 492.00,392.59 497.00,392.23C502.00,391.88 506.17,391.38 510.00,390.81C513.83,390.23 517.00,389.55 520.00,388.80C523.00,388.05 525.50,387.35 528.00,386.30C530.50,385.25 532.58,384.17 535.00,382.50C537.42,380.83 539.83,378.97 542.50,376.30C545.17,373.63 548.25,369.95 551.00,366.50C553.75,363.05 557.67,357.42 559.00,355.60" fill="none" stroke="#0a0a0a" stroke-width="1.35" stroke-linejoin="miter" stroke-linecap="butt"/>
<path d="M316.50,447.50C316.62,446.83 316.82,445.33 317.20,443.50C317.58,441.67 318.08,438.92 318.80,436.50C319.52,434.08 320.47,431.03 321.50,429.00C322.53,426.97 323.85,425.47 325.00,424.30C326.15,423.13 327.83,422.38 328.40,422.00C328.35,421.50 327.93,420.45 328.10,419.00C328.27,417.55 328.92,415.13 329.40,413.30C329.88,411.47 330.40,409.58 331.00,408.00C331.60,406.42 332.22,404.95 333.00,403.80C333.78,402.65 334.62,401.80 335.70,401.10C336.78,400.40 337.95,400.03 339.50,399.60C341.05,399.17 341.58,398.67 345.00,398.50C348.42,398.33 354.17,398.72 360.00,398.60C365.83,398.47 373.33,398.03 380.00,397.75C386.67,397.47 393.33,397.18 400.00,396.90C406.67,396.62 413.33,396.33 420.00,396.05C426.67,395.77 433.33,395.48 440.00,395.20C446.67,394.92 453.33,394.63 460.00,394.35C466.67,394.07 473.83,393.76 480.00,393.50C486.17,393.24 492.00,392.93 497.00,392.78C502.00,392.63 506.33,392.67 510.00,392.59C513.67,392.51 516.00,392.48 519.00,392.30C522.00,392.12 525.50,391.83 528.00,391.50C530.50,391.17 533.00,390.50 534.00,390.30C536.72,388.17 545.80,381.47 550.30,377.50C554.80,373.53 557.48,370.15 561.00,366.50C564.52,362.85 569.67,357.42 571.40,355.60" fill="none" stroke="#0a0a0a" stroke-width="1.4" stroke-linejoin="miter" stroke-linecap="butt"/>
</g>
<g id="arrows">
<path d="M327,360.3 L339.2,360.3 Q340.6,360.3 342,360.8 L353,364" fill="none" stroke="#0a0a0a" stroke-width="1.2"/>
<polygon points="358.3,365.7 353.7,361.7 351.8,366.9" fill="#0a0a0a"/>
<path d="M263.1,451.1 L274.3,451.1 Q275.8,451.1 277.2,450.6 L289.5,446.9" fill="none" stroke="#0a0a0a" stroke-width="1.2"/>
<polygon points="293.9,445.6 288.8,444.1 290.5,449.6" fill="#0a0a0a"/>
<path d="M350.3,450.6 L338,450.6 Q336.6,450.6 335.2,450.2 L323.6,446.7" fill="none" stroke="#0a0a0a" stroke-width="1.2"/>
<polygon points="319.3,445.6 324.0,443.8 323.1,449.2" fill="#0a0a0a"/>
</g>
</g>
</svg>
</body></html>
